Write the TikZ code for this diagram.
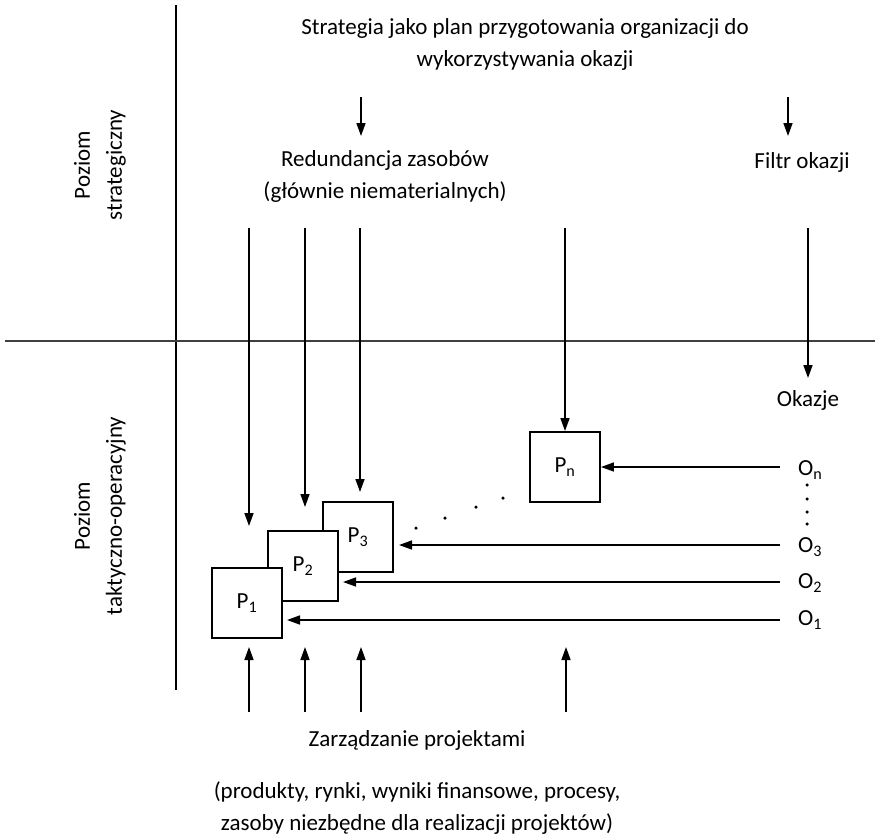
\documentclass[tikz,border=0pt]{standalone}
\usepackage{fontspec}
\setmainfont{Carlito}
\usetikzlibrary{arrows.meta}
\begin{document}
\begin{tikzpicture}[x=1pt,y=-1pt,
  font=\fontsize{23}{32}\selectfont,
  arr/.style={-{Triangle[length=13pt,width=9pt]}, line width=1.6pt},
  pbox/.style={draw, line width=1.9pt, fill=white, minimum size=70pt, inner sep=0pt},
  txt/.style={inner sep=0pt, align=center},
  dotm/.style={circle, fill=black, inner sep=0pt, minimum size=3.5pt}]
\useasboundingbox (0,0) rectangle (875,836);
% axes
\draw[line width=1.4pt] (176,5) -- (176,690);
\draw[line width=2.2pt, black!75] (5,341) -- (875,341);
% left labels
\node[txt, rotate=90] (lvlS) at (100,165) {Poziom\\strategiczny};
\node[txt, rotate=90] (lvlT) at (100,516) {Poziom\\taktyczno-operacyjny};
% top text
\node[txt] (strat) at (525,44) {Strategia jako plan przygotowania organizacji do\\wykorzystywania okazji};
\node[txt] (red) at (385,176) {Redundancja zasobów\\(głównie niematerialnych)};
\node[txt] (filtr) at (802,162) {Filtr okazji};
\node[txt] (okazje) at (808,400) {Okazje};
\coordinate (a1s) at (361,97); \coordinate (a1e) at (361,136);
\coordinate (a2s) at (788,97); \coordinate (a2e) at (788,136);
\draw[arr] (a1s) -- (a1e);
\draw[arr] (a2s) -- (a2e);
% boxes
\node[pbox] (P3) at (358,537) {P\textsubscript{3}};
\node[pbox] (P2) at (303,566) {P\textsubscript{2}};
\node[pbox] (P1) at (247,603) {P\textsubscript{1}};
\node[pbox] (Pn) at (565,467) {P\textsubscript{n}};
% arrows from top
\coordinate (t1) at (249,228); \coordinate (e1) at (249,526);
\coordinate (t2) at (305,228); \coordinate (e2) at (305,507);
\coordinate (t3) at (360,228); \coordinate (e3) at (360,492);
\coordinate (t4) at (565,228);
\coordinate (t5) at (808,228); \coordinate (e5) at (808,378);
\draw[arr] (t1) -- (e1);
\draw[arr] (t2) -- (e2);
\draw[arr] (t3) -- (e3);
\draw[arr] (t4) -- (Pn.north);
\draw[arr] (t5) -- (e5);
% O labels
\node[txt, anchor=west] (On) at (798,470) {O\textsubscript{n}};
\node[txt, anchor=west] (O3) at (798,547) {O\textsubscript{3}};
\node[txt, anchor=west] (O2) at (798,583) {O\textsubscript{2}};
\node[txt, anchor=west] (O1) at (798,620) {O\textsubscript{1}};
\coordinate (sn) at (780,467); \coordinate (s3) at (780,545);
\coordinate (s2) at (780,582); \coordinate (s1) at (780,620);
\draw[arr] (sn) -- (Pn.east);
\draw[arr] (s3) -- (399,545);
\draw[arr] (s2) -- (343,582);
\draw[arr] (s1) -- (287,620);
% dots
\foreach \y in {485,499,512,524} \node[dotm] at (807,\y) {};
\foreach \x/\y in {416/528,445/518,476/507,503/498} \node[dotm] at (\x,\y) {};
% bottom
\node[txt] (zarz) at (417,740) {Zarządzanie projektami};
\node[txt] (prod) at (417,808) {(produkty, rynki, wyniki finansowe, procesy,\\zasoby niezbędne dla realizacji projektów)};
\coordinate (b1) at (249,712); \coordinate (f1) at (249,647);
\coordinate (b2) at (305,712); \coordinate (f2) at (305,647);
\coordinate (b3) at (361,712); \coordinate (f3) at (361,647);
\coordinate (b4) at (566,712); \coordinate (f4) at (566,647);
\draw[arr] (b1) -- (f1);
\draw[arr] (b2) -- (f2);
\draw[arr] (b3) -- (f3);
\draw[arr] (b4) -- (f4);
\end{tikzpicture}
\end{document}
